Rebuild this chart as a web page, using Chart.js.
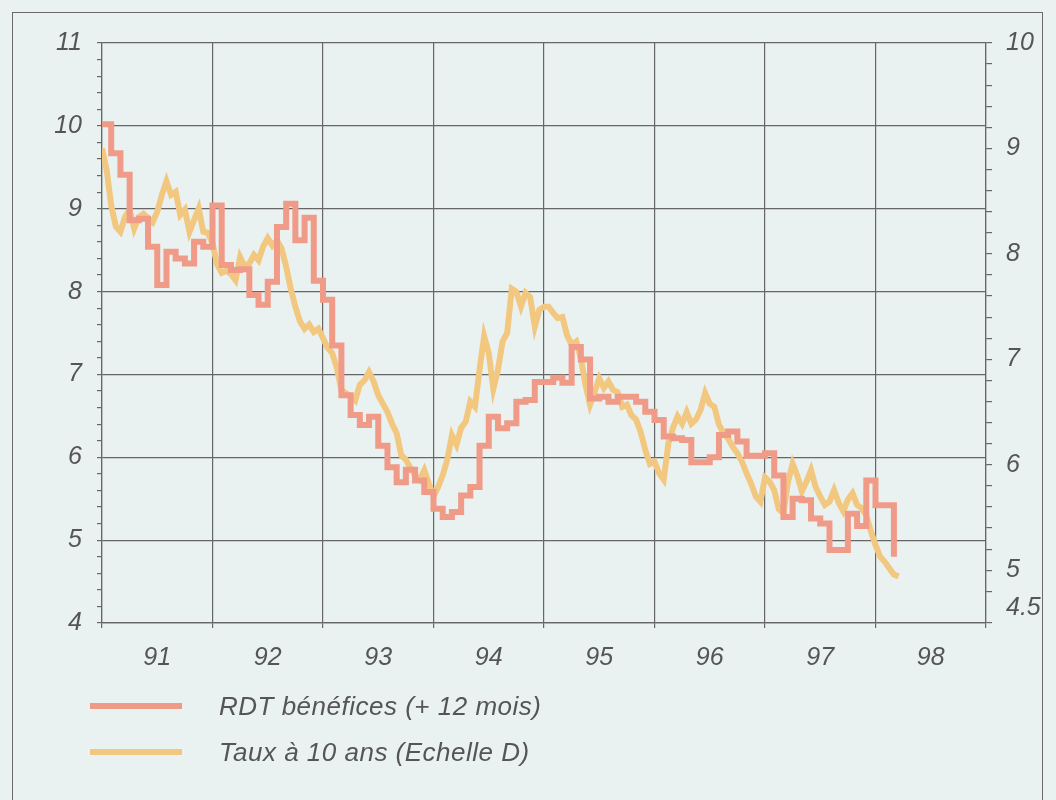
<!DOCTYPE html>
<html lang="fr">

<head>
  <meta charset="UTF-8" />
  <title>RDT bénéfices et taux à 10 ans</title>
  <script src="https://cdn.jsdelivr.net/npm/chart.js"></script>
  <style>
    * {
      margin: 0;
      padding: 0;
      box-sizing: border-box;
    }

    body {
      width: 1056px;
      height: 800px;
      overflow: hidden;
      background: #e9f2f1;
      font-family: 'Liberation Sans', Arial, sans-serif;
    }

    .frame {
      position: absolute;
      left: 12px;
      top: 12px;
      width: 1031px;
      height: 900px;
      border: 1.5px solid #6a6a6a;
    }

    .chart-box {
      position: absolute;
      left: 0;
      top: 0;
      width: 1056px;
      height: 800px;
    }

    #legend {
      position: absolute;
      left: 90px;
      top: 683px;
    }

    #legend .row {
      display: flex;
      align-items: center;
      height: 46px;
    }

    #legend .bar {
      width: 92px;
      height: 6px;
      margin-right: 37px;
    }

    #legend .txt {
      font-style: italic;
      font-size: 26px;
      letter-spacing: 0.5px;
      color: #555;
    }
  </style>
</head>

<body>
  <div class="frame"></div>
  <div class="chart-box">
    <canvas id="lineChart"></canvas>
  </div>
  <div id="legend"></div>

  <script>
    // x axis: months since Jan 1991
    const years = ['91', '92', '93', '94', '95', '96', '97', '98'];

    // RDT bénéfices (+ 12 mois), monthly, left scale
    const rdtBenefices = [
      10.02, 9.67, 9.41, 8.86, 8.88, 8.54, 8.08, 8.48, 8.40, 8.34, 8.60, 8.54,
      9.04, 8.32, 8.26, 8.27, 7.96, 7.84, 8.12, 8.78, 9.06, 8.62, 8.89, 8.13,
      7.90, 7.35, 6.75, 6.51, 6.39, 6.49, 6.14, 5.88, 5.70, 5.85, 5.72, 5.58,
      5.38, 5.28, 5.34, 5.54, 5.64, 6.14, 6.49, 6.35, 6.41, 6.67, 6.69, 6.91,
      6.91, 6.96, 6.90, 7.33, 7.18, 6.71, 6.73, 6.67, 6.73, 6.73, 6.67, 6.55,
      6.45, 6.25, 6.23, 6.21, 5.94, 5.94, 6.00, 6.27, 6.31, 6.19, 6.02, 6.02,
      6.05, 5.78, 5.28, 5.50, 5.48, 5.26, 5.20, 4.88, 4.88, 5.32, 5.17, 5.72,
      5.42, 5.42, 4.80
    ];

    // Taux à 10 ans, twice a month, right scale (Echelle D)
    const taux10ans = [
      9.00, 8.80, 8.46, 8.26, 8.21, 8.35, 8.42, 8.24, 8.35, 8.38, 8.34, 8.30,
      8.40, 8.56, 8.69, 8.56, 8.59, 8.37, 8.42, 8.21, 8.32, 8.43, 8.21, 8.20,
      8.10, 7.90, 7.82, 7.84, 7.81, 7.75, 7.97, 7.88, 7.91, 7.99, 7.94, 8.07,
      8.15, 8.08, 8.13, 8.05, 7.88, 7.67, 7.50, 7.36, 7.29, 7.33, 7.26, 7.29,
      7.20, 7.11, 7.06, 6.92, 6.71, 6.68, 6.65, 6.61, 6.76, 6.80, 6.88, 6.79,
      6.66, 6.58, 6.50, 6.39, 6.30, 6.09, 6.05, 5.97, 5.90, 5.86, 5.95, 5.82,
      5.70, 5.79, 5.90, 6.05, 6.28, 6.19, 6.35, 6.41, 6.60, 6.55, 6.90, 7.22,
      7.06, 6.72, 6.90, 7.17, 7.25, 7.67, 7.64, 7.50, 7.63, 7.59, 7.31, 7.47,
      7.50, 7.50, 7.44, 7.39, 7.40, 7.23, 7.14, 7.17, 7.01, 6.76, 6.57, 6.69,
      6.82, 6.73, 6.79, 6.71, 6.69, 6.55, 6.57, 6.47, 6.43, 6.31, 6.14, 6.01,
      6.03, 5.92, 5.86, 6.20, 6.35, 6.46, 6.39, 6.50, 6.39, 6.43, 6.52, 6.68,
      6.58, 6.55, 6.38, 6.30, 6.25, 6.17, 6.11, 6.03, 5.92, 5.82, 5.70, 5.65,
      5.88, 5.84, 5.76, 5.58, 5.54, 5.84, 6.01, 5.90, 5.75, 5.84, 5.95, 5.79,
      5.70, 5.62, 5.65, 5.76, 5.64, 5.56, 5.67, 5.73, 5.62, 5.59, 5.52, 5.37,
      5.24, 5.13, 5.08, 5.02, 4.96, 4.94
    ];

    const leftMin = 4, leftMax = 11;
    const rightMin = 4.5, rightMax = 10;
    const rightLabels = [4.5, 5, 6, 7, 8, 9, 10];

    const gridCol = '#666';
    const tickFont = { family: "'Liberation Sans', Arial, sans-serif", size: 25, style: 'italic' };
    const isWhole = v => Math.abs(v - Math.round(v)) < 1e-6;

    const ctx = document.getElementById('lineChart').getContext('2d');

    const chart = new Chart(ctx, {
      type: 'line',
      data: {
        datasets: [
          {
            label: 'RDT bénéfices (+ 12 mois)',
            data: rdtBenefices.map((v, i) => ({ x: i, y: v })),
            borderColor: '#f09a88',
            borderWidth: 6,
            stepped: true,
            pointRadius: 0,
            yAxisID: 'y'
          },
          {
            label: 'Taux à 10 ans (Echelle D)',
            data: taux10ans.map((v, i) => ({ x: i / 2, y: v })),
            borderColor: '#f2c880',
            borderWidth: 6,
            borderJoinStyle: 'miter',
            pointRadius: 0,
            yAxisID: 'y2'
          }
        ]
      },
      options: {
        responsive: true,
        maintainAspectRatio: false,
        animation: false,
        layout: { padding: { top: 43, left: 0, right: 0, bottom: 0 } },
        plugins: {
          legend: { display: false },
          tooltip: { enabled: false }
        },
        scales: {
          x: {
            type: 'linear',
            min: 0,
            max: 96,
            grid: {
              color: c => (c.tick && c.tick.value % 12 === 0) ? gridCol : 'transparent',
              lineWidth: 1.2,
              tickLength: 5
            },
            border: { color: gridCol, width: 1.2 },
            ticks: {
              stepSize: 6,
              maxTicksLimit: 30,
              autoSkip: false,
              maxRotation: 0,
              padding: 15,
              color: '#555',
              font: tickFont,
              callback: v => (v % 12 === 6) ? years[(v - 6) / 12] : ''
            },
            afterFit: s => { s.height = 177; }
          },
          y: {
            position: 'left',
            min: leftMin,
            max: leftMax,
            grid: {
              color: c => (c.tick && isWhole(c.tick.value)) ? gridCol : 'transparent',
              tickColor: gridCol,
              lineWidth: 1.2,
              tickLength: 5
            },
            border: { color: gridCol, width: 1.2 },
            ticks: {
              stepSize: 0.2,
              maxTicksLimit: 60,
              autoSkip: false,
              padding: 15,
              color: '#555',
              font: tickFont,
              callback: v => isWhole(v) ? String(Math.round(v)) : ''
            },
            afterFit: s => { s.width = 102; }
          },
          y2: {
            position: 'right',
            min: rightMin,
            max: rightMax,
            grid: {
              drawOnChartArea: false,
              color: gridCol,
              lineWidth: 1.2,
              tickLength: 6
            },
            border: { color: gridCol, width: 1.2 },
            ticks: {
              stepSize: 0.2,
              maxTicksLimit: 60,
              autoSkip: false,
              padding: 14,
              color: '#555',
              font: tickFont,
              // the bottom label sits a little above its tick
              callback: v => {
                if (Math.abs(v - rightMin) < 1e-6) return [String(v), ''];
                return rightLabels.some(r => Math.abs(r - v) < 1e-6) ? String(v) : '';
              }
            },
            afterFit: s => { s.width = 70; }
          }
        }
      }
    });

    // legend stacked under the chart
    const legendBox = document.getElementById('legend');
    chart.data.datasets.forEach(ds => {
      const row = document.createElement('div');
      row.className = 'row';
      row.innerHTML = '<span class="bar" style="background:' + ds.borderColor + '"></span>' +
        '<span class="txt">' + ds.label + '</span>';
      legendBox.appendChild(row);
    });
  </script>
</body>

</html>
